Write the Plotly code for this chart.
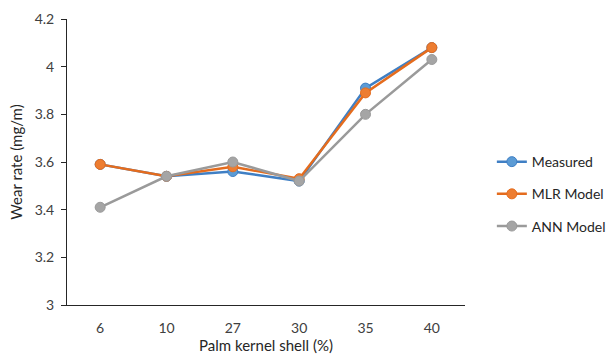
import plotly.graph_objects as go

categories = ["6", "10", "27", "30", "35", "40"]
measured = [3.59, 3.54, 3.56, 3.52, 3.91, 4.08]
mlr_model = [3.59, 3.54, 3.58, 3.53, 3.89, 4.08]
ann_model = [3.41, 3.54, 3.60, 3.52, 3.80, 4.03]
series_names = ["Measured", "MLR Model", "ANN Model"]
colors = ["#3F7FC4", "#E46C1E", "#9A9A9A"]
marker_colors = ["#5B9BD5", "#ED7D31", "#A5A5A5"]

fig = go.Figure()
for i, (name, vals) in enumerate(zip(series_names, [measured, mlr_model, ann_model])):
    fig.add_trace(go.Scatter(
        x=categories, y=vals, name=name, mode="lines+markers",
        line=dict(color=colors[i], width=2.5),
        marker=dict(size=10, color=marker_colors[i], line=dict(color=colors[i], width=1)),
        legendgroup=name,
    ))

font = "Lato, 'Open Sans', sans-serif"
fig.update_layout(
    width=611, height=360,
    margin=dict(l=67, r=146, t=19, b=55, autoexpand=False),
    paper_bgcolor="white", plot_bgcolor="white",
    font=dict(family=font, size=14, color="#404040"),
    showlegend=True,
    legend=dict(xref="container", yref="container", x=0.805, y=0.461,
                xanchor="left", yanchor="middle",
                font=dict(size=14, color="#262626"), tracegroupgap=11,
                bgcolor="rgba(0,0,0,0)"),
    xaxis=dict(type="category", range=[-0.5, 5.5], showline=True, linecolor="#262626", linewidth=1,
               ticks="", showgrid=False, zeroline=False, ticklabelstandoff=10,
               automargin=False,
               title=dict(text="Palm kernel shell (%)", standoff=5,
                          font=dict(size=15, color="#262626"))),
    yaxis=dict(range=[3, 4.2], showline=True, linecolor="#262626", linewidth=1,
               ticks="outside", ticklen=5, tickcolor="#262626", showgrid=False, zeroline=False,
               tickvals=[3, 3.2, 3.4, 3.6, 3.8, 4, 4.2],
               ticktext=["3", "3.2", "3.4", "3.6", "3.8", "4", "4.2"],
               ticklabelstandoff=4, automargin=False,
               title=dict(text="Wear rate (mg/m)", standoff=8,
                          font=dict(size=15, color="#262626"))),
)
fig.write_html("out.html")
